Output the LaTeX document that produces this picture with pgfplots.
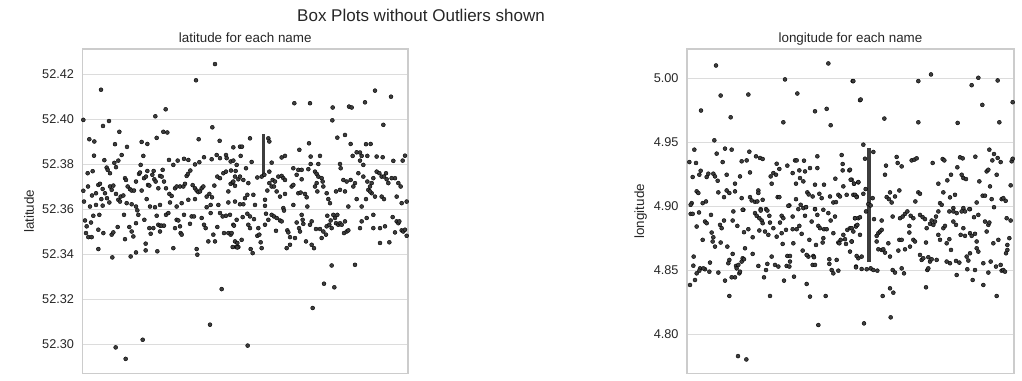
\documentclass[border=0pt]{standalone}
\usepackage{pgfplots}
\pgfplotsset{compat=1.18}
\usepackage{fontspec}
\setmainfont{Liberation Sans}
\definecolor{ptgray}{HTML}{3D3D3D}
\definecolor{framegray}{HTML}{CCCCCC}
\definecolor{gridgray}{HTML}{DCDCDC}
\definecolor{textgray}{HTML}{262626}
\pgfplotsset{
  panel/.style={
    anchor=south west, scale only axis,
    xtick=\empty,
    ymajorgrids,
    grid style={color=gridgray, line width=1bp},
    axis line style={color=framegray, line width=1.25bp},
    major tick style={draw=none},
    tick label style={font=\fontsize{12.7bp}{15bp}\selectfont, text=textgray},
    yticklabel style={xshift=-5bp, /pgf/number format/fixed, /pgf/number format/fixed zerofill, /pgf/number format/precision=2, /pgf/number format/assume math mode=true},
    label style={font=\fontsize{13.4bp}{16bp}\selectfont, text=textgray},
    title style={font=\fontsize{13.4bp}{16bp}\selectfont, text=textgray, at={(0.5,1)}, anchor=base, yshift=0.5bp},
  },
  pts/.style={only marks, mark=*, mark size=2bp, mark options={draw=none, fill=ptgray}},
}
\begin{document}
\begin{tikzpicture}
\path[use as bounding box] (0,0) rectangle (1022bp,381bp);
\node[font=\fontsize{17bp}{20bp}\selectfont, text=textgray] at (421bp,366bp) {Box Plots without Outliers shown};
% ---------------- latitude ----------------
\begin{axis}[panel, at={(82.5bp,7.5bp)}, width=325.5bp, height=324.5bp,
  xmin=67.5, xmax=1044, ymin=52.2870, ymax=52.4312,
  ytick={52.30,52.32,52.34,52.36,52.38,52.40,52.42},
  ylabel={latitude}, ylabel style={at={(axis description cs:-0.164,0.5)}, anchor=center, rotate=0},
  title={latitude for each name}]
\addplot[pts] coordinates {
(465,52.4245) (408,52.4173) (123,52.4131) (317,52.4044) (286,52.4013) (70,52.3997) (147,52.3992) (129,52.3970) (457,52.3964) (178,52.3944) (310,52.3944) (322,52.3941) (88,52.3911) (103,52.3901) (416,52.3911) (479,52.3904) (165,52.3889) (201,52.3877) (290,52.3917) (245,52.3899) (262,52.3890) (540,52.3878) (102,52.3838) (185,52.3841) (250,52.3837) (133,52.3818) (175,52.3816) (163,52.3806) (327,52.3819) (353,52.3816) (372,52.3824) (385,52.3819) (432,52.3831) (455,52.3822) (470,52.3841) (498,52.3841) (500,52.3827) (512,52.3812) (480,52.3827) (340,52.3797) (242,52.3797) (405,52.3799) (418,52.3809)
(83,52.3760) (98,52.3769) (140,52.3785) (143,52.3775) (150,52.3760) (168,52.3787) (70,52.3682) (84,52.3701) (96,52.3661) (108,52.3671) (115,52.3708) (120,52.3713) (128,52.3690) (124,52.3645) (135,52.3671) (141,52.3649) (150,52.3701) (155,52.3686) (160,52.3705) (168,52.3668) (175,52.3642) (182,52.3656) (190,52.3661) (195,52.3738) (198,52.3730) (203,52.3701) (210,52.3689) (215,52.3683) (222,52.3683) (228,52.3723) (237,52.3757) (240,52.3763) (245,52.3683) (252,52.3738) (258,52.3745) (264,52.3708) (268,52.3705) (277,52.3753) (283,52.3733) (287,52.3723) (295,52.3693) (300,52.3748) (305,52.3745) (312,52.3723) (318,52.3693) (328,52.3668) (335,52.3659) (345,52.3693) (350,52.3701) (360,52.3701) (370,52.3701) (375,52.3713) (380,52.3748) (384,52.3757) (391,52.3772) (398,52.3707) (405,52.3693) (410,52.3683) (415,52.3676) (420,52.3679) (425,52.3693) (430,52.3701) (440,52.3656) (448,52.3668) (456,52.3653) (463,52.3705) (472,52.3745) (480,52.3738) (490,52.3760) (498,52.3767) (505,52.3679) (512,52.3713) (518,52.3719) (525,52.3745) (535,52.3733) (72,52.3634) (90,52.3612) (108,52.3619) (128,52.3616) (148,52.3630) (180,52.3634) (200,52.3627) (215,52.3622) (228,52.3612) (260,52.3645) (270,52.3612) (285,52.3609) (300,52.3619) (330,52.3630) (350,52.3612) (365,52.3627) (385,52.3642) (405,52.3645) (440,52.3609) (452,52.3619) (475,52.3619) (505,52.3630) (525,52.3634) (262,52.3770) (281,52.3770) (308,52.3775) (527,52.3770)
(75,52.3550) (80,52.3524) (93,52.3541) (78,52.3494) (85,52.3476) (95,52.3476) (100,52.3571) (118,52.3575) (115,52.3509) (130,52.3494) (115,52.3423) (155,52.3487) (160,52.3497) (173,52.3521) (157,52.3386) (192,52.3575) (195,52.3467) (208,52.3521) (215,52.3501) (220,52.3479) (228,52.3538) (235,52.3575) (232,52.3595) (212,52.3390) (228,52.3408) (253,52.3553) (257,52.3447) (257,52.3417) (268,52.3516) (272,52.3491) (280,52.3516) (290,52.3571) (295,52.3531) (300,52.3527) (305,52.3527) (312,52.3527) (300,52.3501) (292,52.3413) (318,52.3575) (325,52.3583) (340,52.3427) (345,52.3516) (350,52.3553) (355,52.3550) (360,52.3524) (362,52.3494) (365,52.3487) (372,52.3575) (390,52.3535) (395,52.3568) (402,52.3568) (410,52.3423) (412,52.3398) (425,52.3561) (432,52.3531) (437,52.3516) (445,52.3457) (452,52.3583) (460,52.3487) (465,52.3457) (472,52.3521) (480,52.3583) (488,52.3568) (492,52.3494) (498,52.3571) (505,52.3494) (512,52.3487) (520,52.3531) (525,52.3457) (528,52.3432) (535,52.3432) (485,52.3245) (450,52.3087) (248,52.3020) (167,52.2986) (197,52.2935)
(945,52.4127) (993,52.4100) (703,52.4071) (750,52.4071) (818,52.4052) (867,52.4056) (875,52.4052) (915,52.4075) (817,52.3995) (970,52.3975) (832,52.3918) (855,52.3930) (570,52.3915) (625,52.3915) (628,52.3901) (546,52.3878) (520,52.3875) (747,52.3893) (718,52.3864) (872,52.3890) (890,52.3853) (900,52.3852) (918,52.3889) (932,52.3890) (542,52.3837) (520,52.3816) (752,52.3834) (780,52.3837) (665,52.3830) (675,52.3837) (878,52.3837) (905,52.3837) (922,52.3837) (950,52.3834) (968,52.3831) (1000,52.3815) (1028,52.3816) (1035,52.3838) (575,52.3810) (635,52.3807) (775,52.3801) (752,52.3801) (840,52.3801) (842,52.3782) (910,52.3797) (900,52.3816) (530,52.3797) (558,52.3782) (592,52.3741) (605,52.3745) (613,52.3753) (628,52.3767) (638,52.3730) (645,52.3723) (655,52.3745) (665,52.3748) (670,52.3738) (675,52.3730) (700,52.3782) (715,52.3775) (725,52.3775) (745,52.3778) (765,52.3767) (770,52.3757) (775,52.3745) (785,52.3738) (788,52.3723) (710,52.3753) (725,52.3733) (513,52.3772) (540,52.3745) (520,52.3723) (525,52.3704) (550,52.3730) (565,52.3716) (580,52.3664) (562,52.3664) (555,52.3649) (550,52.3622) (540,52.3622) (585,52.3619) (615,52.3642) (622,52.3683) (628,52.3716) (635,52.3701) (642,52.3701) (650,52.3679) (660,52.3656) (675,52.3668) (695,52.3701) (700,52.3708) (715,52.3671) (722,52.3674) (735,52.3668) (740,52.3653) (765,52.3701) (770,52.3716) (772,52.3679) (790,52.3701) (800,52.3671) (805,52.3645) (810,52.3627) (828,52.3679) (840,52.3686) (855,52.3679) (850,52.3730) (860,52.3723) (872,52.3730) (885,52.3716) (880,52.3701) (895,52.3760) (910,52.3745) (922,52.3723) (935,52.3716) (930,52.3701) (940,52.3738) (950,52.3767) (958,52.3760) (965,52.3745) (972,52.3745) (978,52.3760) (980,52.3733) (985,52.3716) (995,52.3738) (1005,52.3738) (1015,52.3716) (1022,52.3701) (1010,52.3656) (1025,52.3627) (1040,52.3634) (945,52.3656) (965,52.3656) (972,52.3645) (935,52.3671) (925,52.3686) (918,52.3645) (890,52.3645) (700,52.3619) (742,52.3612) (670,52.3605) (615,52.3615) (865,52.3612) (905,52.3612) (930,52.3679)
(510,52.3575) (522,52.3527) (530,52.3553) (548,52.3565) (562,52.3580) (570,52.3568) (565,52.3531) (570,52.3516) (582,52.3556) (595,52.3516) (592,52.3482) (598,52.3487) (602,52.3453) (605,52.3427) (572,52.3423) (578,52.3405) (545,52.3464) (532,52.3450) (518,52.3432) (532,52.3430) (515,52.3494) (615,52.3531) (618,52.3580) (625,52.3553) (635,52.3575) (642,52.3568) (650,52.3561) (660,52.3550) (665,52.3546) (648,52.3504) (672,52.3594) (682,52.3506) (685,52.3497) (690,52.3476) (690,52.3442) (680,52.3427) (705,52.3472) (710,52.3541) (717,52.3516) (720,52.3501) (725,52.3575) (728,52.3553) (730,52.3535) (738,52.3457) (750,52.3531) (755,52.3546) (755,52.3442) (762,52.3427) (768,52.3512) (780,52.3512) (785,52.3472) (790,52.3501) (798,52.3487) (800,52.3524) (802,52.3571) (808,52.3531) (812,52.3550) (815,52.3516) (820,52.3575) (825,52.3561) (828,52.3538) (832,52.3575) (835,52.3531) (840,52.3538) (845,52.3531) (855,52.3546) (852,52.3494) (860,52.3501) (865,52.3506) (900,52.3516) (905,52.3546) (920,52.3561) (940,52.3575) (940,52.3516) (960,52.3516) (960,52.3450) (975,52.3524) (988,52.3453) (998,52.3565) (1005,52.3497) (1010,52.3546) (1015,52.3538) (1018,52.3546) (1025,52.3506) (1030,52.3501) (1035,52.3509) (1040,52.3482)
(815,52.3350) (885,52.3353) (792,52.3269) (823,52.3253) (758,52.3161) (563,52.2994)
};
\addplot[ptgray, line width=3.3bp] coordinates {(610,52.3745) (610,52.3933)};
\end{axis}
% ---------------- longitude ----------------
\begin{axis}[panel, at={(687bp,7.5bp)}, width=327bp, height=324.5bp,
  xmin=21, xmax=1002, ymin=4.7694, ymax=5.0231,
  ytick={4.80,4.85,4.90,4.95,5.00},
  ylabel={longitude}, ylabel style={at={(axis description cs:-0.142,0.5)}, anchor=center},
  title={longitude for each name}]
\addplot[pts] coordinates {
(108,5.0102) (445,5.0118) (315,4.9993) (518,4.9980) (122,4.9867) (205,4.9875) (352,4.9883) (63,4.9750) (152,4.9697) (405,4.9744) (440,4.9763) (310,4.9658) (452,4.9635) (540,4.9831) (103,4.9517)
(43,4.9444) (135,4.9452) (155,4.9444) (110,4.9413) (208,4.9428) (228,4.9392) (240,4.9379) (248,4.9371) (28,4.9347) (48,4.9340) (128,4.9347) (185,4.9353) (200,4.9360) (290,4.9334) (345,4.9360) (350,4.9360) (372,4.9358) (412,4.9392) (485,4.9402) (488,4.9332) (62,4.9279) (58,4.9248) (38,4.9230) (85,4.9256) (100,4.9256) (105,4.9235) (80,4.9230) (140,4.9248) (210,4.9266) (180,4.9235) (113,4.9201) (165,4.9178) (280,4.9261) (272,4.9235) (298,4.9293) (322,4.9319) (338,4.9261) (358,4.9282) (360,4.9222) (348,4.9178) (375,4.9274) (390,4.9300) (412,4.9300) (370,4.9196) (405,4.9170) (432,4.9170) (466,4.9217) (488,4.9282) (508,4.9282) (515,4.9209) (522,4.9178) (535,4.9188) (275,4.9178) (288,4.9248) (235,4.9125) (50,4.9118) (55,4.9105) (115,4.9110) (140,4.9125) (148,4.9105) (165,4.9118) (132,4.9073) (185,4.9065) (210,4.9073) (215,4.9047) (225,4.9036) (232,4.9039) (248,4.9052) (293,4.9073) (298,4.9073) (348,4.9057) (382,4.9110) (386,4.9094) (398,4.9078) (418,4.9099) (425,4.9065) (450,4.9078) (460,4.9031) (468,4.9034) (475,4.9091) (490,4.9157) (480,4.9078) (500,4.9091) (520,4.9091) (530,4.9078) (35,4.9026) (32,4.9013) (68,4.9026) (78,4.9039) (235,4.9105) (328,4.9008) (362,4.9013) (378,4.8994) (258,4.8979) (242,4.8979) (405,4.8979) (430,4.8974) (190,4.8974)
(753,5.0032) (715,4.9980) (895,5.0006) (953,4.9985) (875,4.9948) (520,4.9980) (542,4.9836) (907,4.9794) (998,4.9815) (613,4.9687) (715,4.9658) (833,4.9653) (958,4.9658)
(550,4.9483) (580,4.9426) (555,4.9373) (650,4.9387) (618,4.9319) (653,4.9340) (665,4.9313) (695,4.9360) (703,4.9366) (710,4.9376) (758,4.9340) (788,4.9371) (793,4.9360) (840,4.9384) (848,4.9376) (886,4.9389) (928,4.9444) (942,4.9410) (953,4.9379) (937,4.9360) (962,4.9347) (995,4.9353) (998,4.9373) (615,4.9248) (510,4.9287) (512,4.9209) (522,4.9178) (535,4.9191) (525,4.9091) (530,4.9073) (550,4.9099) (557,4.9136) (578,4.9065) (630,4.9110) (620,4.9073) (627,4.9057) (635,4.9031) (645,4.9078) (658,4.9125) (715,4.9110) (720,4.9099) (706,4.9039) (775,4.9178) (790,4.9110) (802,4.9204) (810,4.9071) (813,4.9248) (825,4.9091) (832,4.9306) (845,4.9248) (850,4.9222) (858,4.9214) (890,4.9031) (898,4.9196) (908,4.9084) (915,4.9084) (920,4.9274) (925,4.9287) (930,4.9157) (935,4.9057) (950,4.9248) (965,4.9057) (970,4.9065) (977,4.9044) (992,4.9165) (780,4.9026) (785,4.9013) (565,4.9018) (572,4.9008) (820,4.8987) (850,4.8987) (870,4.8979) (942,4.8994)
(32,4.8942) (38,4.8942) (57,4.8953) (93,4.8934) (50,4.8843) (75,4.8882) (80,4.8869) (68,4.8739) (95,4.8796) (100,4.8759) (98,4.8726) (105,4.8686) (120,4.8856) (125,4.8830) (132,4.8890) (122,4.8718) (142,4.8686) (160,4.8961) (158,4.8890) (172,4.8848) (188,4.8974) (192,4.8799) (205,4.8822) (218,4.8759) (225,4.8948) (230,4.8927) (238,4.8908) (245,4.8890) (238,4.8812) (242,4.8968) (248,4.8869) (255,4.8804) (262,4.8968) (268,4.8927) (270,4.8874) (265,4.8778) (280,4.8830) (290,4.8764) (300,4.8874) (305,4.8927) (310,4.8908) (305,4.8791) (308,4.8707) (318,4.8817) (325,4.9005) (338,4.8921) (338,4.8822) (340,4.8712) (350,4.8822) (355,4.8979) (358,4.8848) (365,4.8786) (375,4.8927) (370,4.8987) (378,4.8995) (385,4.8608) (388,4.8739) (395,4.8882) (400,4.8613) (405,4.8979) (408,4.8699) (412,4.8934) (415,4.8848) (420,4.8830) (428,4.8718) (430,4.8752) (432,4.8822) (440,4.8822) (445,4.8948) (452,4.8890) (460,4.8791) (465,4.8921) (475,4.8718) (478,4.8712) (482,4.8739) (490,4.8778) (495,4.8744) (498,4.8707) (502,4.8817) (510,4.8830) (515,4.8726) (520,4.8804) (525,4.8908) (528,4.8848) (535,4.8908) (20,4.8739) (41,4.8608) (40,4.8537) (60,4.8516) (75,4.8509) (70,4.8516) (90,4.8561) (88,4.8490) (58,4.8498) (50,4.8477) (45,4.8425) (30,4.8386) (115,4.8483) (135,4.8420) (148,4.8582) (145,4.8556) (158,4.8629) (155,4.8446) (165,4.8446) (168,4.8535) (170,4.8516) (175,4.8543) (178,4.8477) (180,4.8490) (185,4.8569) (188,4.8595) (192,4.8587) (195,4.8673) (218,4.8629) (235,4.8535) (252,4.8446) (258,4.8503) (262,4.8551) (275,4.8608) (285,4.8543) (295,4.8530) (322,4.8613) (330,4.8613) (320,4.8535) (328,4.8530) (330,4.8569) (342,4.8451) (312,4.8420) (368,4.8655) (380,4.8621) (398,4.8543) (405,4.8543) (402,4.8603) (448,4.8587) (448,4.8551) (455,4.8503) (460,4.8477) (470,4.8582) (475,4.8498) (528,4.8530) (535,4.8595) (148,4.8300) (270,4.8300) (380,4.8394) (390,4.8295) (437,4.8300) (415,4.8073) (174,4.7830) (199,4.7804)
(515,4.8830) (528,4.8843) (532,4.8856) (540,4.8778) (525,4.8908) (540,4.8916) (515,4.8726) (510,4.8647) (530,4.8613) (545,4.8608) (545,4.8511) (528,4.8524) (560,4.8509) (572,4.8516) (580,4.8503) (592,4.8498) (558,4.8961) (582,4.8901) (605,4.8890) (590,4.8770) (595,4.8791) (600,4.8804) (605,4.8817) (590,4.8726) (595,4.8665) (605,4.8660) (610,4.8665) (615,4.8639) (625,4.8712) (630,4.8608) (638,4.8503) (645,4.8483) (665,4.8516) (672,4.8477) (608,4.8300) (630,4.8360) (640,4.8326) (632,4.8133) (552,4.8086) (638,4.8921) (660,4.8908) (668,4.8921) (675,4.8942) (682,4.8961) (692,4.8927) (700,4.8908) (688,4.8848) (688,4.8796) (700,4.8739) (705,4.8726) (658,4.8739) (665,4.8739) (655,4.8655) (675,4.8665) (690,4.8686) (720,4.8934) (728,4.8916) (735,4.8901) (740,4.8830) (750,4.8864) (755,4.8890) (760,4.8856) (765,4.8882) (768,4.8921) (775,4.8961) (738,4.8718) (720,4.8621) (725,4.8582) (730,4.8595) (745,4.8603) (750,4.8569) (755,4.8587) (770,4.8582) (738,4.8368) (742,4.8503) (745,4.8516) (775,4.8778) (780,4.8739) (790,4.8830) (795,4.8848) (800,4.8712) (808,4.8744) (808,4.8961) (820,4.8961) (830,4.8948) (845,4.8961) (855,4.8961) (868,4.8979) (882,4.8916) (895,4.8934) (820,4.8882) (828,4.8856) (842,4.8778) (850,4.8830) (855,4.8770) (870,4.8791) (875,4.8770) (885,4.8786) (890,4.8726) (800,4.8569) (810,4.8556) (813,4.8660) (828,4.8574) (830,4.8464) (838,4.8561) (860,4.8608) (865,4.8577) (862,4.8509) (870,4.8634) (878,4.8425) (890,4.8673) (895,4.8647) (885,4.8503) (910,4.8386) (915,4.8882) (925,4.8856) (920,4.8804) (928,4.8874) (910,4.8556) (925,4.8483) (932,4.8569) (948,4.8530) (950,4.8300) (940,4.8712) (955,4.8739) (962,4.8543) (965,4.8498) (970,4.8503) (975,4.8490) (978,4.8634) (982,4.8699) (988,4.8752) (980,4.8908) (992,4.8890) (982,4.8660)
};
\addplot[ptgray, line width=3.3bp] coordinates {(567,4.8569) (567,4.9457)};
\end{axis}
\end{tikzpicture}
\end{document}
